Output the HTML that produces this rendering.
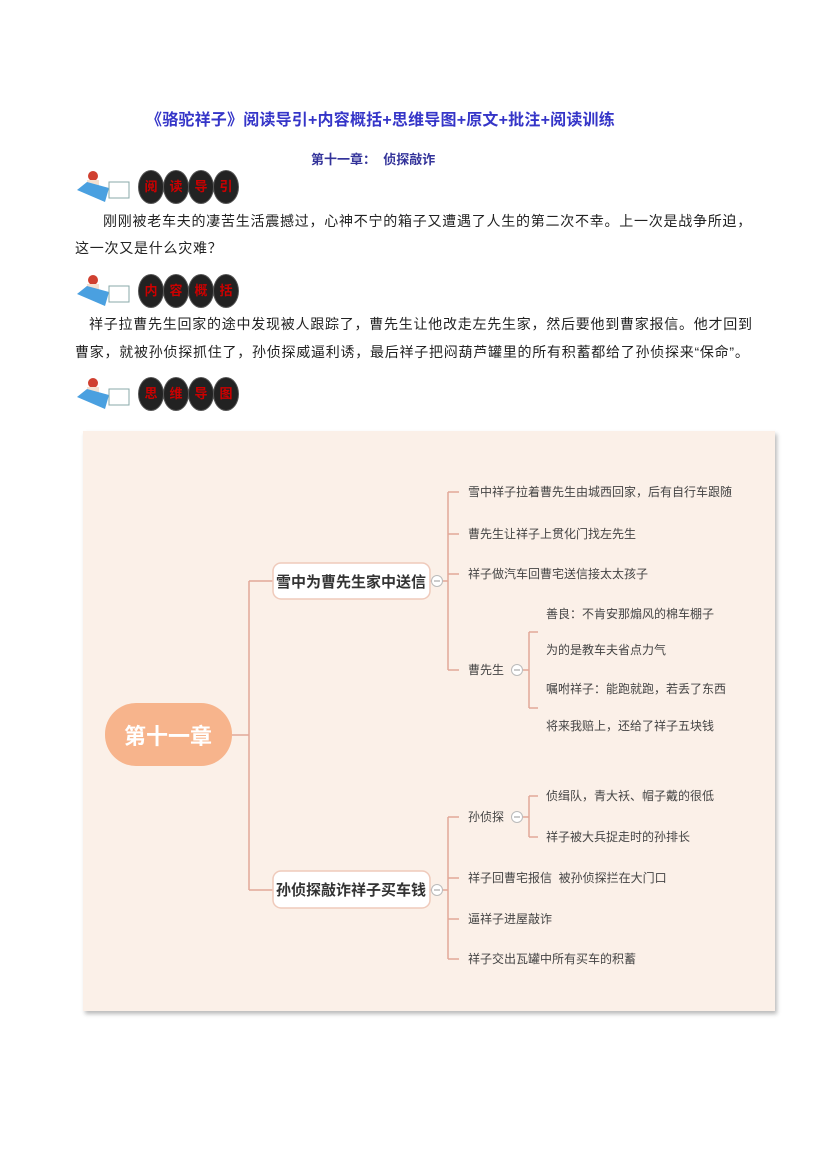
<!DOCTYPE html>
<html><head><meta charset="utf-8"><style>
body{margin:0;width:827px;height:1169px;background:#fff;position:relative;font-family:"Liberation Sans","Noto Sans CJK SC",sans-serif;overflow:hidden}
.a{position:absolute;white-space:nowrap}
.title{left:146px;top:106px;font-size:16px;font-weight:bold;color:#3535c8;letter-spacing:0.2px}
.sub{left:311px;top:149px;font-size:13px;font-weight:bold;color:#33339a}
.p{font-size:14px;color:#222;left:75px;letter-spacing:0.75px}
.icon{position:absolute;width:165px;height:36px}
.ov{position:absolute;top:2px;width:24px;height:32px;border-radius:50%;background:#222;border:1px solid #555;color:#c00;font-size:13px;font-weight:bold;text-align:center;line-height:32px}
.card{position:absolute;left:83px;top:431px;width:692px;height:580px;background:#fbf0e8;box-shadow:2px 3px 4px #bbb}
</style></head><body>
<div class="a title">《骆驼祥子》阅读导引+内容概括+思维导图+原文+批注+阅读训练</div>
<div class="a sub">第十一章：&nbsp; 侦探敲诈</div>

<div class="icon" style="left:75px;top:168px">
<svg width="62" height="36"><circle cx="18" cy="8" r="5" fill="#d04030"/><rect x="12" y="12" width="12" height="12" fill="#f5e0d0"/><path d="M2 22 L30 34 L34 20 L12 14Z" fill="#4aa0e0"/><rect x="34" y="14" width="20" height="16" fill="#fff" stroke="#8aa" /></svg>
<div class="ov" style="left:63px">阅</div><div class="ov" style="left:88px">读</div><div class="ov" style="left:113px">导</div><div class="ov" style="left:138px">引</div></div>
<div class="a p" style="left:103px;top:211px">刚刚被老车夫的凄苦生活震撼过，心神不宁的箱子又遭遇了人生的第二次不幸。上一次是战争所迫，</div>
<div class="a p" style="top:238px">这一次又是什么灾难？</div>

<div class="icon" style="left:75px;top:272px">
<svg width="62" height="36"><circle cx="18" cy="8" r="5" fill="#d04030"/><rect x="12" y="12" width="12" height="12" fill="#f5e0d0"/><path d="M2 22 L30 34 L34 20 L12 14Z" fill="#4aa0e0"/><rect x="34" y="14" width="20" height="16" fill="#fff" stroke="#8aa" /></svg>
<div class="ov" style="left:63px">内</div><div class="ov" style="left:88px">容</div><div class="ov" style="left:113px">概</div><div class="ov" style="left:138px">括</div></div>
<div class="a p" style="left:89px;top:314px">祥子拉曹先生回家的途中发现被人跟踪了，曹先生让他改走左先生家，然后要他到曹家报信。他才回到</div>
<div class="a p" style="top:342px">曹家，就被孙侦探抓住了，孙侦探威逼利诱，最后祥子把闷葫芦罐里的所有积蓄都给了孙侦探来“保命”。</div>

<div class="icon" style="left:75px;top:375px">
<svg width="62" height="36"><circle cx="18" cy="8" r="5" fill="#d04030"/><rect x="12" y="12" width="12" height="12" fill="#f5e0d0"/><path d="M2 22 L30 34 L34 20 L12 14Z" fill="#4aa0e0"/><rect x="34" y="14" width="20" height="16" fill="#fff" stroke="#8aa" /></svg>
<div class="ov" style="left:63px">思</div><div class="ov" style="left:88px">维</div><div class="ov" style="left:113px">导</div><div class="ov" style="left:138px">图</div></div>

<div class="card"></div>
<svg class="a" style="left:0;top:0" width="827" height="1169">
<g stroke="#e2a898" stroke-width="1.5" fill="none">
<path d="M232 735 H249 M249 581 V890 M249 581 H273 M249 890 H273"/>
<path d="M430 581 H448 M448 492 V670 M448 492 H459 M448 534 H459 M448 574 H459 M448 670 H459"/>
<path d="M523 670 H529 M529 632 V708 M529 632 H538 M529 708 H538"/>
<path d="M430 890 H448 M448 817 V959 M448 817 H459 M448 878 H459 M448 919 H459 M448 959 H459"/>
<path d="M523 817 H529 M529 796 V837 M529 796 H538 M529 837 H538"/>
</g>
<g fill="#fff" stroke="#bbb" stroke-width="1">
<circle cx="437" cy="581" r="5.5"/><circle cx="437" cy="890" r="5.5"/><circle cx="517" cy="670" r="5.5"/><circle cx="517" cy="817" r="5.5"/>
</g>
<g stroke="#999"><path d="M434 581 H440 M434 890 H440 M514 670 H520 M514 817 H520"/></g>
<rect x="105" y="703" width="127" height="63" rx="31" fill="#f7b48c"/>
<text x="168" y="744" font-size="22" font-weight="bold" fill="#fff" text-anchor="middle" font-family="Liberation Sans,Noto Sans CJK SC,sans-serif">第十一章</text>
<rect x="273" y="563" width="157" height="36" rx="8" fill="#fff" stroke="#efcabb" stroke-width="1.5"/>
<text x="351" y="587" font-size="15" font-weight="bold" fill="#333" text-anchor="middle" font-family="Liberation Sans,Noto Sans CJK SC,sans-serif">雪中为曹先生家中送信</text>
<rect x="273" y="871" width="157" height="37" rx="8" fill="#fff" stroke="#efcabb" stroke-width="1.5"/>
<text x="351" y="895" font-size="15" font-weight="bold" fill="#333" text-anchor="middle" font-family="Liberation Sans,Noto Sans CJK SC,sans-serif">孙侦探敲诈祥子买车钱</text>
<g font-size="12" fill="#444" font-family="Liberation Sans,Noto Sans CJK SC,sans-serif">
<text x="468" y="496">雪中祥子拉着曹先生由城西回家，后有自行车跟随</text>
<text x="468" y="538">曹先生让祥子上贯化门找左先生</text>
<text x="468" y="578">祥子做汽车回曹宅送信接太太孩子</text>
<text x="468" y="674">曹先生</text>
<text x="546" y="618">善良：不肯安那煽风的棉车棚子</text>
<text x="546" y="654">为的是教车夫省点力气</text>
<text x="546" y="693">嘱咐祥子：能跑就跑，若丢了东西</text>
<text x="546" y="730">将来我赔上，还给了祥子五块钱</text>
<text x="468" y="821">孙侦探</text>
<text x="546" y="800">侦缉队，青大袄、帽子戴的很低</text>
<text x="546" y="841">祥子被大兵捉走时的孙排长</text>
<text x="468" y="882">祥子回曹宅报信&nbsp; 被孙侦探拦在大门口</text>
<text x="468" y="923">逼祥子进屋敲诈</text>
<text x="468" y="963">祥子交出瓦罐中所有买车的积蓄</text>
</g>
</svg>
</body></html>
